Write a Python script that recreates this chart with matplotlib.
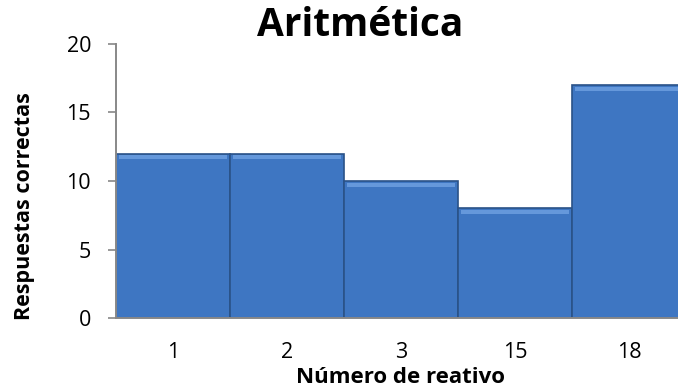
import matplotlib
matplotlib.use("Agg")
import matplotlib.pyplot as plt

categories = ["1", "2", "3", "15", "18"]
values = [12, 12, 10, 8, 17]
yticks = [0, 5, 10, 15, 20]

plt.rcParams['font.family'] = ['Open Sans', 'DejaVu Sans']

fig = plt.figure(figsize=(6.78, 3.89), dpi=100)
ax = fig.add_axes([116/678, 71/389, 570/678, 274/389])

x = list(range(len(categories)))
ax.bar(x, values, width=1.0, color='#3e76c2', edgecolor='#2a5288', linewidth=1.2, zorder=2)
# bevel highlight along top
ax.bar(x, [0.3]*len(values), bottom=[v - 0.42 for v in values], width=0.94,
       color='#6d9fe0', edgecolor='none', alpha=0.85, zorder=3)

ax.set_xlim(-0.5, len(categories) - 0.5)
ax.set_ylim(0, 20)
ax.set_yticks(yticks)
ax.set_yticklabels([str(t) for t in yticks], fontsize=15.5)
ax.set_xticks(x)
ax.set_xticklabels(categories, fontsize=15.5)
ax.tick_params(axis='x', length=0, pad=17)
ax.tick_params(axis='y', length=6, color='#888888', width=1.2, pad=12)

for s in ['top', 'right']:
    ax.spines[s].set_visible(False)
for s in ['left', 'bottom']:
    ax.spines[s].set_color('#888888')
    ax.spines[s].set_linewidth(1.4)

fig.text(25/678, 1 - 206/389, "Respuestas correctas", fontsize=15.5, fontweight='bold',
         rotation=90, ha='center', va='center')
fig.text(401/678, 1 - 383/389, "Número de reativo", fontsize=16, fontweight='bold',
         ha='center', va='baseline')
fig.text(360/678, 1 - 36/389, "Aritmética", fontsize=28, fontweight='bold',
         ha='center', va='baseline')

fig.savefig("out.png", dpi=100)
